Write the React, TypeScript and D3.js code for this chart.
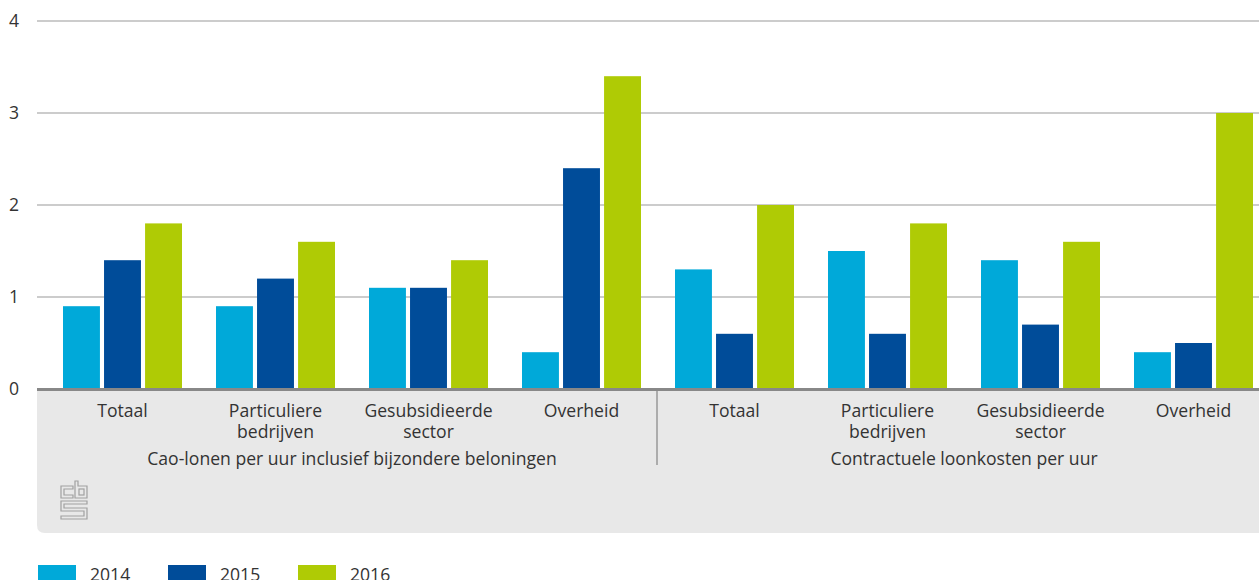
import React from "react";
import * as d3 from "d3";

const W = 1259;
const H = 580;

const groups = [
  "Cao-lonen per uur inclusief bijzondere beloningen",
  "Contractuele loonkosten per uur",
];
const sectors = [
  ["Totaal"],
  ["Particuliere", "bedrijven"],
  ["Gesubsidieerde", "sector"],
  ["Overheid"],
];
const years = ["2014", "2015", "2016"];
const colors = ["#00a9d9", "#004c99", "#afcb05"];

const v2014 = [0.9, 0.9, 1.1, 0.4, 1.3, 1.5, 1.4, 0.4];
const v2015 = [1.4, 1.2, 1.1, 2.4, 0.6, 0.6, 0.7, 0.5];
const v2016 = [1.8, 1.6, 1.4, 3.4, 2.0, 1.8, 1.6, 3.0];
const yTicks = [0, 1, 2, 3, 4];

const series = [v2014, v2015, v2016];
const cats = d3.range(8).map((i) => `c${i}`);

export default function App() {
  const y = d3.scaleLinear().domain([0, 4]).range([389, 21]);
  const x = d3.scaleBand().domain(cats).range([46, 1270]).paddingInner(0).paddingOuter(0);
  const inner = d3.scaleBand().domain(years).range([17, x.bandwidth() - 17]).paddingInner(0.1);
  const font = "'Open Sans', 'Noto Sans', sans-serif";
  const fs = 17.6;

  return (
    <svg width={W} height={H} style={{ position: "absolute", left: 0, top: 0 }} fontFamily={font}>
      {/* grid */}
      {yTicks.map((t) => (
        <g key={t}>
          <line x1={37} x2={W} y1={y(t)} y2={y(t)} stroke="#999" strokeWidth={1} />
          <text x={14} y={y(t) + 6} fontSize={fs} fill="#333" textAnchor="middle">{t}</text>
        </g>
      ))}
      {/* panel */}
      <path d={`M37,389 H${W} V533 H45 Q37,533 37,525 Z`} fill="#e8e8e8" />
      {/* bars */}
      {series.map((vals, si) =>
        vals.map((v, i) => (
          <rect
            key={`${si}-${i}`}
            x={(x(cats[i]) ?? 0) + (inner(years[si]) ?? 0)}
            y={y(v)}
            width={inner.bandwidth()}
            height={y(0) - y(v)}
            fill={colors[si]}
          />
        ))
      )}
      <line x1={37} x2={W} y1={389.5} y2={389.5} stroke="#888" strokeWidth={3} />
      {/* category labels */}
      {cats.map((c, i) => {
        const lines = sectors[i % 4];
        const cx = (x(c) ?? 0) + x.bandwidth() / 2;
        return (
          <text key={c} x={cx} y={417} fontSize={fs} fill="#333" textAnchor="middle">
            {lines.map((l, k) => (
              <tspan key={k} x={cx} dy={k === 0 ? 0 : 21}>{l}</tspan>
            ))}
          </text>
        );
      })}
      {groups.map((g, gi) => {
        const x0 = x(cats[gi * 4]) ?? 0;
        const x1 = (x(cats[gi * 4 + 3]) ?? 0) + x.bandwidth();
        return (
          <text key={g} x={(x0 + x1) / 2} y={465} fontSize={fs} fill="#333" textAnchor="middle">{g}</text>
        );
      })}
      <line x1={657} x2={657} y1={391} y2={465} stroke="#999" strokeWidth={1.5} />
      {/* cbs logo */}
      <g fill="none" stroke="#a0a0a0" strokeWidth={1.2}>
        <path d="M73,486 H61 V498 H73 V495 H64 V489 H73 Z" />
        <path d="M75,481 H78 V486 H87 V498 H75 Z" />
        <rect x={79} y={489} width={5} height={6} />
        <path d="M61,501 H87 V504 H64 V508 H87 V519 H61 V516 H84 V511 H61 Z" />
      </g>
      {/* legend */}
      {years.map((yr, i) => (
        <g key={yr} transform={`translate(${38 + i * 130},565)`}>
          <rect width={38} height={16} fill={colors[i]} />
          <text x={52} y={16} fontSize={fs} fill="#333">{yr}</text>
        </g>
      ))}
    </svg>
  );
}
